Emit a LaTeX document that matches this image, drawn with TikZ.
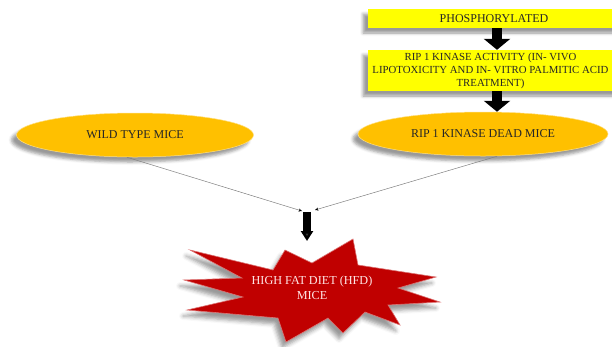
\documentclass[tikz,border=0pt]{standalone}
\usepackage{fontspec}
\setmainfont{Liberation Serif}
\usetikzlibrary{arrows.meta,shadows.blur,shapes.geometric}
\definecolor{boxyellow}{HTML}{FFFF00}
\definecolor{gold}{HTML}{FFC000}
\definecolor{starred}{HTML}{C00000}
\definecolor{txt}{HTML}{262626}
\begin{document}
\begin{tikzpicture}[x=1pt,y=-1pt,
  lbl/.style={font=\fontsize{12}{14}\selectfont, text=txt},
  softshadow/.style={blur shadow={shadow xshift=-5pt, shadow yshift=-5pt, shadow blur radius=3pt, shadow opacity=40}},
  ybox/.style={lbl, rectangle, fill=boxyellow, inner sep=0pt, align=center, softshadow},
  oval/.style={lbl, ellipse, fill=gold, draw=gold!50!white, line width=0.5pt, inner sep=0pt, softshadow},
  blockarrow/.style={line width=10pt, -{Triangle[width=26pt,length=11pt]}},
  smallblock/.style={line width=8pt, -{Triangle[width=12pt,length=10pt]}},
  thinarrow/.style={draw=gray, line width=0.5pt, -{Stealth[length=3.5pt,width=3pt,black]}}
]
\useasboundingbox (0,0) rectangle (612,346);
\clip (0,0) rectangle (612,346);

% yellow boxes
\node[ybox, minimum width=252pt, minimum height=19pt] (phos) at (494,18.5) {PHOSPHORYLATED};
\node[ybox, minimum width=252pt, minimum height=41pt] (rip) at (494,70.5) {};
\node[font=\fontsize{10.8}{13}\selectfont, text=txt, align=center, inner sep=0pt] (riptext) at (490.5,70.5)
  {RIP 1 KINASE ACTIVITY (IN- VIVO\\LIPOTOXICITY AND IN- VITRO PALMITIC ACID\\TREATMENT)};

% ellipses
\node[oval, minimum width=237pt, minimum height=44pt] (wt) at (135,135) {WILD TYPE MICE};
\node[oval, minimum width=250pt, minimum height=44pt] (rdm) at (483,134) {RIP 1 KINASE DEAD MICE};

% block arrows at top
\draw[blockarrow] ([xshift=3pt]phos.south) -- ([xshift=3pt]rip.north);
\draw[blockarrow] ([xshift=3pt]rip.south) -- ([xshift=3pt]rip.south |- rdm.north);

% converging thin arrows
\coordinate (la) at (302,211);
\coordinate (ra) at (315,210);
\draw[thinarrow] ([xshift=-8pt]wt.south) -- (la);
\draw[thinarrow] ([xshift=14pt]rdm.south) -- (ra);

% starburst
\fill[starred, draw=starred!55!white, line width=0.6pt, line join=miter,
      blur shadow={shadow xshift=-4pt, shadow yshift=-6pt, shadow blur radius=4pt, shadow opacity=40}]
  (190,250) -- (273,270) -- (285,250) -- (312,263) -- (353,239) -- (358,265)
  -- (436,277) -- (398,288) -- (440,302) -- (388,305) -- (400,325) -- (365,312)
  -- (343,333) -- (328,318) -- (286,342) -- (278,318) -- (187,310) -- (243,297)
  -- (184,280) -- (242,278) -- cycle;
\node[font=\fontsize{12.2}{15}\selectfont, text=white!90!red, align=center] (hfd) at (312,288)
  {HIGH FAT DIET (HFD)\\MICE};

% bottom block arrow
\coordinate (bt) at (307,212);
\coordinate (bb) at (307,241);
\draw[smallblock] (bt) -- (bb);
\end{tikzpicture}
\end{document}
